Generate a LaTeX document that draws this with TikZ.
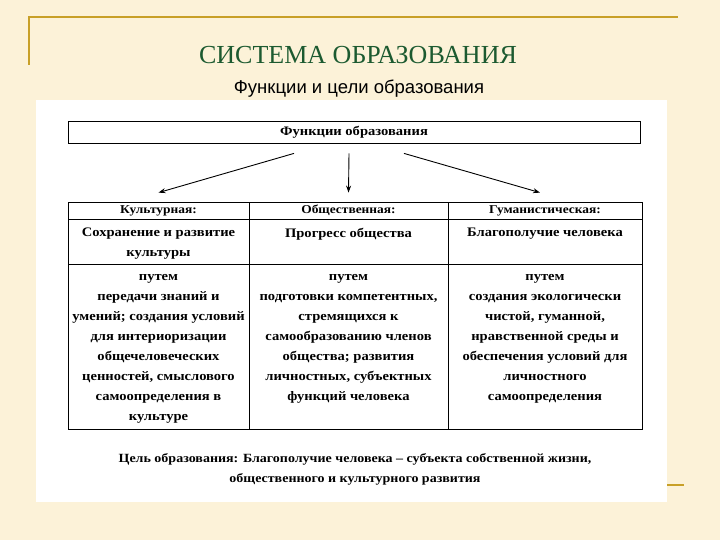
\documentclass[tikz,border=0pt]{standalone}
\usepackage{fontspec}
\setmainfont{Liberation Serif}
\newfontfamily\subfont{Liberation Sans}
\newfontfamily\cellfont[FakeStretch=1.12]{Liberation Serif}
\usetikzlibrary{arrows.meta,positioning}
\definecolor{pagebg}{RGB}{252,242,216}
\definecolor{goldline}{RGB}{200,160,40}
\definecolor{titlegreen}{RGB}{28,90,48}
\tikzset{
  cellbox/.style={draw, line width=0.8pt, inner sep=0pt},
  celltext/.style={inner sep=0pt, anchor=north, align=center, font=\cellfont\bfseries\fontsize{13}{20}\selectfont},
  headtext/.style={font=\cellfont\bfseries\fontsize{12}{14}\selectfont},
  arr/.style={-{Stealth[length=7pt,width=5pt]}, line width=0.9pt},
  rim/.style={goldline, line width=2pt}
}
\begin{document}
\begin{tikzpicture}[x=1pt,y=-1pt]
\useasboundingbox (0,0) rectangle (720,540);
\fill[pagebg] (0,0) rectangle (720,540);
\draw[rim] (29,65) -- (29,17) -- (678,17);
\draw[rim] (667,485) -- (684,485);
\fill[white] (36,100) rectangle (667,502);

\node[font=\fontsize{26}{30}\selectfont, text=titlegreen] (title) at (358,55) {СИСТЕМА ОБРАЗОВАНИЯ};
\node[font=\subfont\fontsize{18.5}{22}\selectfont] (subtitle) at (359,89) {Функции и цели образования};

% functions box
\node[cellbox, minimum width=572pt, minimum height=22pt, headtext, font=\cellfont\bfseries\fontsize{13}{14}\selectfont] (func) at (354,132) {Функции образования};

% table: header row
\node[cellbox, minimum width=181pt, minimum height=17pt, headtext] (cultHead) at (158.5,210.5) {Культурная:};
\node[cellbox, minimum width=199pt, minimum height=17pt, headtext] (socHead) at (348.5,210.5) {Общественная:};
\node[cellbox, minimum width=194pt, minimum height=17pt, headtext] (humHead) at (545,210.5) {Гуманистическая:};

% table: aims
\node[cellbox, minimum width=181pt, minimum height=45pt] (cultAim) at (158.5,241.5) {};
\node[cellbox, minimum width=199pt, minimum height=45pt] (socAim) at (348.5,241.5) {};
\node[cellbox, minimum width=194pt, minimum height=45pt] (humAim) at (545,241.5) {};
\node[celltext, below=9pt of cultAim.north] {Сохранение и развитие\\культуры};
\node[celltext, below=9pt of socAim.north] {Прогресс общества};
\node[celltext, below=9pt of humAim.north] {Благополучие человека};

% table: ways
\node[cellbox, minimum width=181pt, minimum height=165pt] (cultWay) at (158.5,346.5) {};
\node[cellbox, minimum width=199pt, minimum height=165pt] (socWay) at (348.5,346.5) {};
\node[cellbox, minimum width=194pt, minimum height=165pt] (humWay) at (545,346.5) {};
\node[celltext, below=11pt of cultWay.north] {путем\\передачи знаний и\\умений; создания условий\\для интериоризации\\общечеловеческих\\ценностей, смыслового\\самоопределения в\\культуре};
\node[celltext, below=11pt of socWay.north] {путем\\подготовки компетентных,\\стремящихся к\\самообразованию членов\\общества; развития\\личностных, субъектных\\функций человека};
\node[celltext, below=11pt of humWay.north] {путем\\создания экологически\\чистой, гуманной,\\нравственной среды и\\обеспечения условий для\\личностного\\самоопределения};

\draw[arr] ([xshift=-60pt,yshift=-10pt]func.south) -- ([yshift=9pt]cultHead.north);
\draw[arr] ([xshift=-5pt,yshift=-10pt]func.south) -- ([yshift=9pt]socHead.north);
\draw[arr] ([xshift=50pt,yshift=-10pt]func.south) -- ([xshift=-5pt,yshift=9pt]humHead.north);

\node[celltext, anchor=center, font=\cellfont\bfseries\fontsize{12.5}{20}\selectfont] (goal) at (355,469) {Цель образования: Благополучие человека – субъекта собственной жизни,\\общественного и культурного развития};
\end{tikzpicture}
\end{document}
